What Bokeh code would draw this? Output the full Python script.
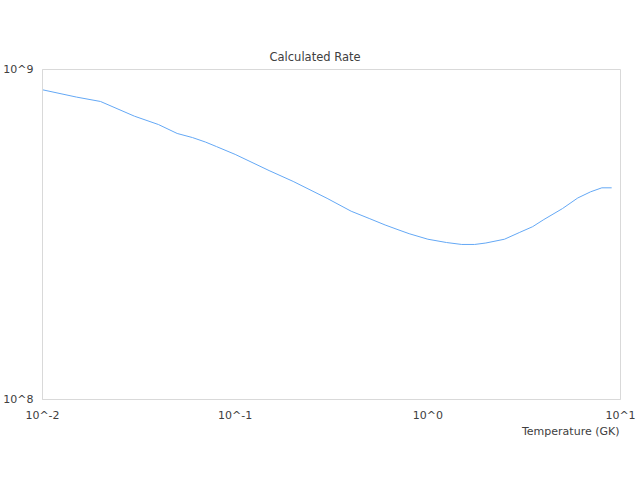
from bokeh.plotting import figure
from bokeh.models import CustomJSTickFormatter, FixedTicker, Range1d, Title
from bokeh.embed import file_html
from bokeh.resources import INLINE

# Temperature grid (GK) and calculated rate
temperature = [0.01, 0.015, 0.02, 0.03, 0.04, 0.05, 0.06, 0.07, 0.08, 0.1,
               0.15, 0.2, 0.3, 0.4, 0.5, 0.6, 0.7, 0.8, 1.0, 1.25,
               1.5, 1.75, 2.0, 2.5, 3.0, 3.5, 4.0, 5.0, 6.0, 7.0, 8.0, 9.0]
rate = [8.68e8, 8.25e8, 8.00e8, 7.22e8, 6.81e8, 6.40e8, 6.22e8, 6.03e8, 5.84e8, 5.53e8,
        4.94e8, 4.58e8, 4.07e8, 3.72e8, 3.53e8, 3.38e8, 3.27e8, 3.18e8, 3.06e8, 2.99e8,
        2.95e8, 2.95e8, 2.98e8, 3.06e8, 3.21e8, 3.34e8, 3.51e8, 3.79e8, 4.08e8, 4.26e8, 4.38e8, 4.38e8]

x_ticks = [0.01, 0.1, 1, 10]
y_ticks = [1e8, 1e9]
title_text = "Calculated Rate"
x_label = "Temperature (GK)"

TEXT = "#404040"
FONT = "DejaVu Sans"

p = figure(width=640, height=480, x_axis_type="log", y_axis_type="log",
           x_range=Range1d(0.01, 10), y_range=Range1d(1e8, 1e9),
           output_backend="svg", toolbar_location=None,
           min_border_left=40, min_border_right=20, min_border_top=69, min_border_bottom=81)

# the default title panel (closest to the frame) acts as a blank spacer
p.title.text = " "
p.title.standoff = 29
p.title.text_font = FONT
p.title.text_font_size = "11.5px"

# the real title sits in the outermost panel, near the top of the canvas
main_title = Title(text=title_text, align="left", offset=227, vertical_align="top",
                   standoff=8, text_font=FONT, text_font_size="11.5px",
                   text_font_style="normal", text_color=TEXT)
p.add_layout(main_title, "above")

p.line(temperature, rate, line_color="#64a8f5", line_width=1)

fmt = CustomJSTickFormatter(code="return '10^' + Math.round(Math.log10(tick));")
for ax, ticks in ((p.xaxis[0], x_ticks), (p.yaxis[0], y_ticks)):
    ax.ticker = FixedTicker(ticks=ticks, minor_ticks=[])
    ax.formatter = fmt
    ax.major_tick_in = 0
    ax.major_tick_out = 0
    ax.minor_tick_in = 0
    ax.minor_tick_out = 0
    ax.axis_line_color = "#d9d9d9"
    ax.major_label_text_font = FONT
    ax.major_label_text_font_size = "11px"
    ax.major_label_text_color = TEXT
p.xaxis.major_label_standoff = 9
p.yaxis.major_label_standoff = 9

p.xgrid.visible = False
p.ygrid.visible = False
p.outline_line_color = "#d9d9d9"

xt = Title(text=x_label, align="right", text_font=FONT, text_font_size="11px",
           text_font_style="normal", text_color=TEXT, offset=1, standoff=-4)
p.add_layout(xt, "below")

open("out.html", "w").write(file_html(p, INLINE))
